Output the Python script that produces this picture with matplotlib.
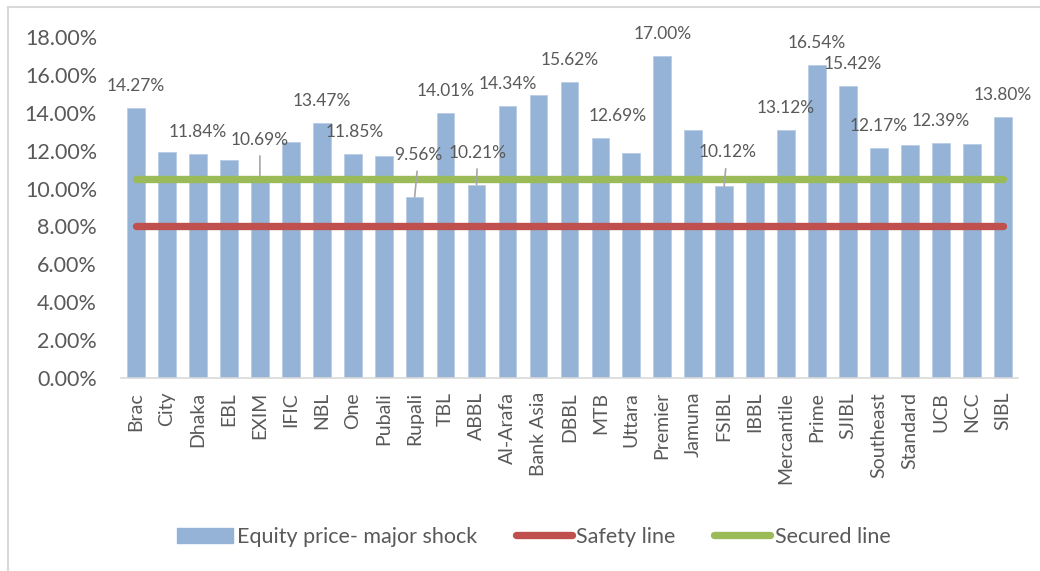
import matplotlib.pyplot as plt
from matplotlib.lines import Line2D
from matplotlib.ticker import FuncFormatter

# DATA
banks = ['Brac', 'City', 'Dhaka', 'EBL', 'EXIM', 'IFIC', 'NBL', 'One', 'Pubali', 'Rupali',
         'TBL', 'ABBL', 'Al-Arafa', 'Bank Asia', 'DBBL', 'MTB', 'Uttara', 'Premier', 'Jamuna',
         'FSIBL', 'IBBL', 'Mercantile', 'Prime', 'SJIBL', 'Southeast', 'Standard', 'UCB', 'NCC', 'SIBL']
equity_shock = [14.27, 11.92, 11.84, 11.51, 10.69, 12.46, 13.47, 11.85, 11.74, 9.56,
                14.01, 10.21, 14.34, 14.95, 15.62, 12.69, 11.89, 17.00, 13.09,
                10.12, 10.45, 13.12, 16.54, 15.42, 12.17, 12.32, 12.39, 12.37, 13.80]
safety_line = 8.0
secured_line = 10.5
labelled = ['Brac', 'Dhaka', 'EXIM', 'NBL', 'One', 'Rupali', 'TBL', 'ABBL', 'Al-Arafa', 'DBBL',
            'MTB', 'Premier', 'FSIBL', 'Mercantile', 'Prime', 'SJIBL', 'Southeast', 'UCB', 'SIBL']

# label placement (pixels) for the ones Excel moved
label_shift = {'EXIM': (0, 36), 'Rupali': (4, 42), 'ABBL': (1, 32), 'FSIBL': (3, 34),
               'MTB': (17, 22), 'SJIBL': (5, 22), 'One': (2, 22)}

BLUE = '#95B3D7'
RED = '#C0504D'
GREEN = '#9BBB59'
TXT = '#595959'

plt.rcParams['font.family'] = ['Lato', 'DejaVu Sans']

fig = plt.figure(figsize=(10.4, 5.71), dpi=100)
ax = fig.add_axes([0.116, 0.338, 0.863, 0.597])

x = list(range(len(banks)))
ax.bar(x, equity_shock, width=0.57, color=BLUE, edgecolor='#B9CDE5', linewidth=0.6, zorder=1)
ax.plot([x[0], x[-1]], [safety_line, safety_line], color=RED, lw=5.3,
        solid_capstyle='round', zorder=3)
ax.plot([x[0], x[-1]], [secured_line, secured_line], color=GREEN, lw=5.3,
        solid_capstyle='round', zorder=3)

for i, name in enumerate(banks):
    if name not in labelled:
        continue
    dx, dy = label_shift.get(name, (0, 22))
    props = None
    if dy > 25:
        props = dict(arrowstyle='-', color='#A6A6A6', lw=1.2, shrinkA=4, shrinkB=0)
    ax.annotate('%.2f%%' % equity_shock[i], xy=(i, equity_shock[i]), xytext=(dx, dy),
                textcoords='offset pixels', ha='center', va='center', fontsize=12.5,
                color=TXT, arrowprops=props, zorder=4)

ax.set_xlim(-0.5, len(banks) - 0.5)
ax.set_ylim(0, 18)
ax.set_yticks([0, 2, 4, 6, 8, 10, 12, 14, 16, 18])
ax.yaxis.set_major_formatter(FuncFormatter(lambda v, p: '%.2f%%' % v))
ax.set_xticks(x)
ax.set_xticklabels(banks, rotation=90)
ax.tick_params(axis='both', length=0, colors=TXT)
ax.tick_params(axis='y', pad=17, labelsize=15.5)
ax.tick_params(axis='x', pad=10, labelsize=14)
for s in ['top', 'right', 'left']:
    ax.spines[s].set_visible(False)
ax.spines['bottom'].set_color('#D9D9D9')
ax.spines['bottom'].set_linewidth(1.2)

handles = [plt.Rectangle((0, 0), 1, 1, color=BLUE),
           Line2D([0], [0], color=RED, lw=5.3, solid_capstyle='round'),
           Line2D([0], [0], color=GREEN, lw=5.3, solid_capstyle='round')]
fig.legend(handles, ['Equity price- major shock', 'Safety line', 'Secured line'],
           loc='center', bbox_to_anchor=(0.513, 0.06), ncol=3, frameon=False,
           fontsize=15.5, labelcolor=TXT, handlelength=2.6, handletextpad=0.2,
           columnspacing=1.8)

# chart frame (top and left edges only visible)
fig.add_artist(Line2D([8 / 1040, 8 / 1040], [0, 1 - 7 / 571], color='#D9D9D9', lw=1.5))
fig.add_artist(Line2D([8 / 1040, 1], [1 - 7 / 571, 1 - 7 / 571], color='#D9D9D9', lw=1.5))

plt.savefig('out.png', dpi=100)
